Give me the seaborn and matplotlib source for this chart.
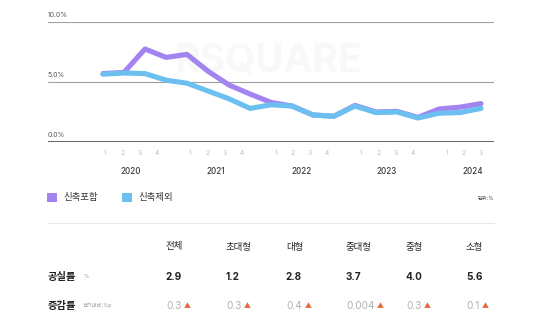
import numpy as np
import pandas as pd
import matplotlib
matplotlib.use('Agg')
import matplotlib.pyplot as plt
import seaborn as sns
from matplotlib.patches import Rectangle
from matplotlib.lines import Line2D

# ---------------- data ----------------
years = ['2020', '2021', '2022', '2023', '2024']
quarters_per_year = [4, 4, 4, 4, 3]
quarter_labels = ['1', '2', '3', '4']
incl_new = [5.7, 5.8, 7.75, 7.05, 7.3, 5.9, 4.75, 4.0, 3.3, 3.0, 2.25, 2.15,
            3.05, 2.5, 2.55, 2.05, 2.75, 2.9, 3.2]
excl_new = [5.65, 5.75, 5.7, 5.15, 4.9, 4.25, 3.6, 2.8, 3.1, 3.0, 2.25, 2.15,
            3.0, 2.45, 2.5, 2.0, 2.4, 2.45, 2.8]
series_names = ['신축포함', '신축제외']
series_colors = ['#a383ef', '#6cc0ef']
y_ticks = [0, 5, 10]
y_tick_labels = ['0.0%', '5.0%', '10.0%']
col_headers = ['전체', '초대형', '대형', '중대형', '중형', '소형']
vacancy = ['2.9', '1.2', '2.8', '3.7', '4.0', '5.6']
change = ['0.3', '0.3', '0.4', '0.004', '0.3', '0.1']
row_labels = ['공실률', '증감률']
row_units = ['%', '전기대비,%p']
unit_note = '단위:%'
watermark = 'RSQUARE'

# ---------------- style ----------------
sns.set_style('white')
plt.rcParams['font.family'] = ['Inter', 'Noto Sans CJK KR', 'DejaVu Sans']

W, H = 540, 321
fig = plt.figure(figsize=(W / 100, H / 100), dpi=100)
fig.patch.set_facecolor('white')

# pixel-space overlay axes for layout text
axt = fig.add_axes([0, 0, 1, 1])
axt.set_xlim(0, W)
axt.set_ylim(H, 0)
axt.axis('off')

# main chart axes
L, R, T, B = 48, 494, 22, 142
ax = fig.add_axes([L / W, (H - B) / H, (R - L) / W, (B - T) / H])
ax.patch.set_alpha(0)

n = len(incl_new)
df = pd.DataFrame({
    't': list(range(n)) * 2,
    'value': incl_new + excl_new,
    'series': [series_names[0]] * n + [series_names[1]] * n,
})
sns.lineplot(data=df, x='t', y='value', hue='series', hue_order=series_names,
             palette=dict(zip(series_names, series_colors)), linewidth=3.7,
             legend=False, ax=ax, solid_joinstyle='round', zorder=3)

step_px = (481 - 103) / (n - 1)
ax.set_xlim((L - 103) / step_px, (R - 103) / step_px)
ax.set_ylim(0, 10)
for s in ax.spines.values():
    s.set_visible(False)

for v in y_ticks:
    ax.axhline(v, color='#555555' if v == 0 else '#a0a0a0',
               lw=1.3 if v == 0 else 0.8, zorder=1)
ax.set_yticks([])
for v, lab in zip(y_ticks, y_tick_labels):
    ax.annotate(lab, xy=(0, v), xycoords=('axes fraction', 'data'),
                xytext=(0, 3), textcoords='offset points', ha='left',
                va='bottom', fontsize=5, color='#555555')

# quarter tick labels with a gap slot between years
slot = 17.09 / step_px
first = (105 - 103) / step_px
qpos, qlab = [], []
for yi, (yr, nq) in enumerate(zip(years, quarters_per_year)):
    for q in range(nq):
        qpos.append(first + slot * (5 * yi + q))
        qlab.append(quarter_labels[q])
    ax.annotate(yr, xy=(first + slot * (5 * yi + 1.5), 0),
                xycoords=('data', 'axes fraction'), xytext=(0, -21),
                textcoords='offset points', ha='center', va='center',
                fontsize=5.8, color='#3a3a3a', fontweight='medium')
ax.set_xticks(qpos, qlab)
ax.tick_params(axis='x', length=0, pad=6, labelsize=4.8, labelcolor='#bbbbbb')
ax.set_xlabel('')
ax.set_ylabel('')

# watermark
axt.text(268, 62, watermark, fontsize=28, fontweight='bold', color='#f8f8f8',
         ha='center', va='center', zorder=0)

# legend
lx = [47, 122]
for x0, name, col in zip(lx, series_names, series_colors):
    axt.add_patch(Rectangle((x0, 193), 10, 9, color=col, lw=0))
    axt.text(x0 + 16, 197.5, name, fontsize=6.8, color='#333333',
             ha='left', va='center')
axt.text(494, 198, unit_note, fontsize=3.8, color='#444444', ha='right', va='center')

# separator
axt.add_line(Line2D([48, 494], [223, 223], color='#e8e8e8', lw=0.8))

# table
col_x = [166 + 60 * j for j in range(len(col_headers))]
row_y = [277, 306]
for x0, h in zip(col_x, col_headers):
    axt.text(x0, 247, h, fontsize=6.8, color='#222222', ha='left', va='center',
             fontweight='medium')
for y0, lab, unit in zip(row_y, row_labels, row_units):
    axt.text(48, y0, lab, fontsize=7.4, fontweight='bold', color='#222222',
             ha='left', va='center')
    axt.text(83, y0, unit, fontsize=3.8, color='#999999', ha='left', va='center')
for x0, v in zip(col_x, vacancy):
    axt.text(x0, row_y[0], v, fontsize=7.2, fontweight='bold', color='#222222',
             ha='left', va='center')
for x0, v in zip(col_x, change):
    t = axt.text(x0, row_y[1], v, fontsize=7.2, color='#b0b0b0',
                 ha='left', va='center')
    axt.annotate('▲', xy=(1, 0.5), xycoords=t, xytext=(2, 0),
                 textcoords='offset points', ha='left', va='center',
                 fontsize=5, color='#e8673f',
                 family=['Noto Sans CJK KR', 'DejaVu Sans'])

fig.savefig('out.png', dpi=100, facecolor='white')
